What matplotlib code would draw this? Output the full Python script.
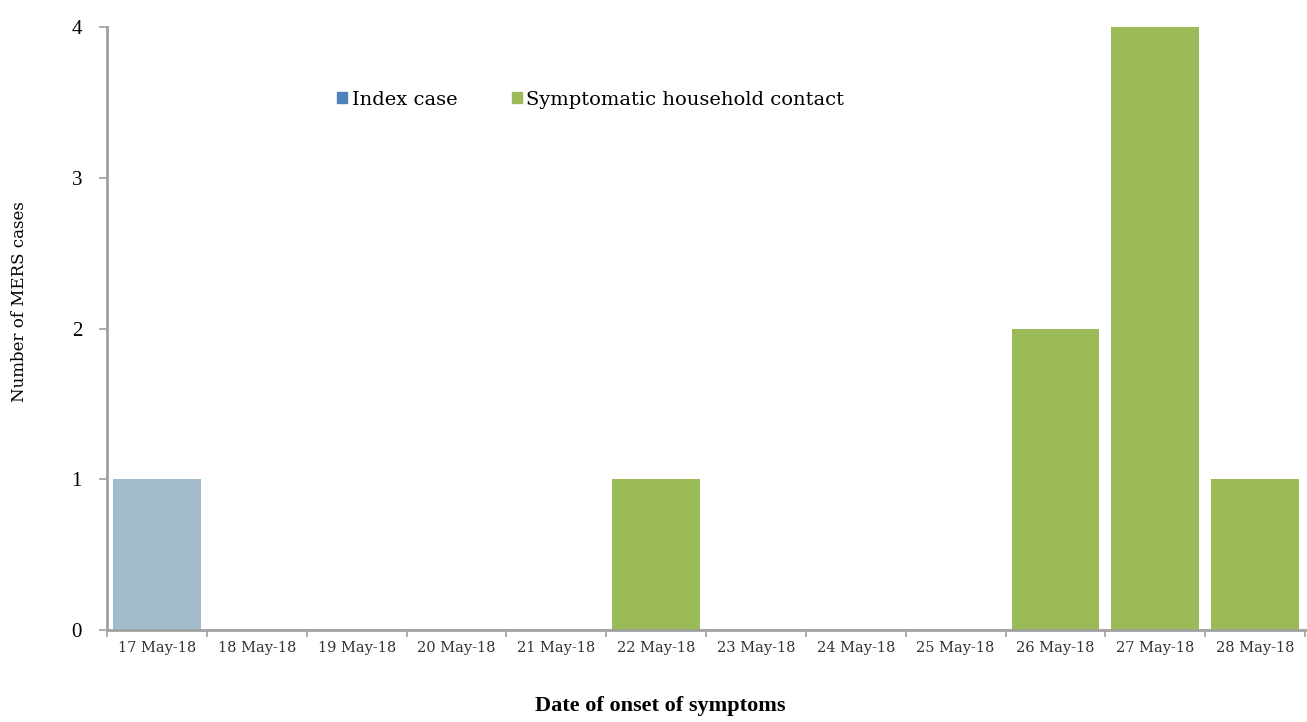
import numpy as np
import matplotlib.pyplot as plt
from matplotlib.patches import Patch

# Onset dates and counts
dates = ['17 May-18', '18 May-18', '19 May-18', '20 May-18', '21 May-18', '22 May-18',
         '23 May-18', '24 May-18', '25 May-18', '26 May-18', '27 May-18', '28 May-18']
index_case = [1, 0, 0, 0, 0, 0, 0, 0, 0, 0, 0, 0]
household = [0, 0, 0, 0, 0, 1, 0, 0, 0, 2, 4, 1]

plt.rcParams['font.family'] = ['Liberation Serif', 'DejaVu Serif']
wide = ['DejaVu Serif']

fig = plt.figure(figsize=(13.07, 7.22), dpi=100)
ax = fig.add_axes([0.0819, 0.1274, 0.9166, 0.8352])

x = np.arange(len(dates))
ax.bar(x, index_case, width=0.88, color='#a3bccb')
ax.bar(x, household, width=0.88, color='#9bbb59')

ax.set_xlim(-0.5, len(dates) - 0.5)
ax.set_ylim(0, 4)
ax.set_yticks([0, 1, 2, 3, 4])
ax.tick_params(axis='y', labelsize=15, length=6, width=1.2, color='#a0a0a0', pad=12)

ax.set_xticks(x)
ax.set_xticklabels(dates, fontsize=10.5, color='#333333', family=wide)
ax.set_xticks(np.arange(-0.5, len(dates), 1), minor=True)
ax.tick_params(axis='x', which='major', length=0, pad=8)
ax.tick_params(axis='x', which='minor', length=5, width=1.2, color='#a0a0a0')

for s in ['top', 'right']:
    ax.spines[s].set_visible(False)
for s in ['left', 'bottom']:
    ax.spines[s].set_color('#a0a0a0')
    ax.spines[s].set_linewidth(2)

ax.set_xlabel('Date of onset of symptoms', fontsize=16, fontweight='bold')
ax.xaxis.set_label_coords(0.4616, -0.11)
ax.set_ylabel('Number of MERS cases', fontsize=12, family=wide)
ax.yaxis.set_label_coords(-0.066, 0.544)

handles = [Patch(color='#4f81bd'), Patch(color='#9bbb59')]
fig.legend(handles, ['Index case', 'Symptomatic household contact'], loc='center',
           bbox_to_anchor=(0.452, 0.862), ncol=2, frameon=False,
           prop={'family': wide, 'size': 14},
           handlelength=0.5, handleheight=0.5, handletextpad=0.25, columnspacing=2.8)

fig.savefig('out.png', dpi=100)
